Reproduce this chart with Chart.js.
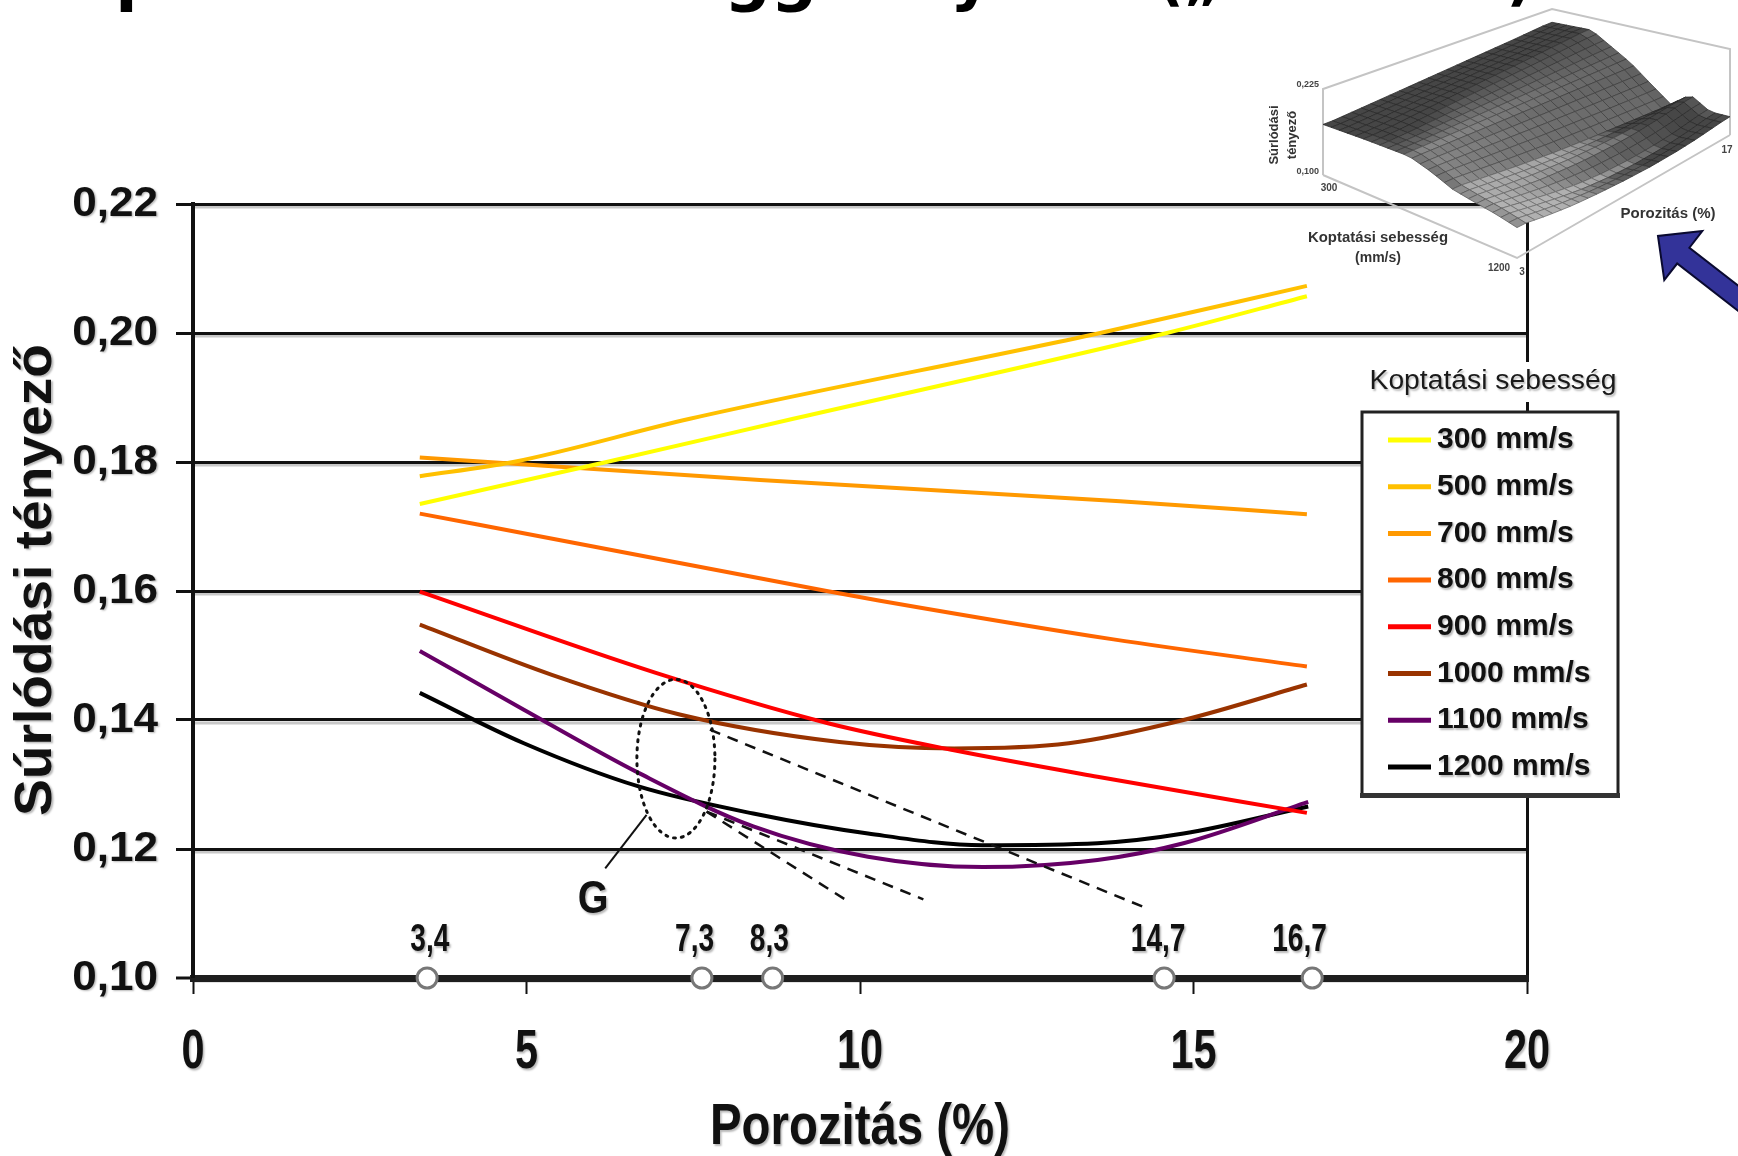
<!DOCTYPE html>
<html><head><meta charset="utf-8">
<script src="https://cdn.jsdelivr.net/npm/chart.js@4.4.1/dist/chart.umd.min.js"></script>
<style>html,body{margin:0;padding:0;background:#fff;}canvas{display:block;}</style>
</head><body>
<canvas id="c" width="1738" height="1156"></canvas>
<script>
// ---------------- DATA ----------------
const speeds = [300, 500, 700, 800, 900, 1000, 1100, 1200];
const seriesLabels = speeds.map(s => s + ' mm/s');
const xTicks = [0, 5, 10, 15, 20];
const yTicks = [0.10, 0.12, 0.14, 0.16, 0.18, 0.20, 0.22];

const por300 = [3.4, 6.2, 9.0, 14.6, 16.7];
const fr300  = [0.1735, 0.1800, 0.1867, 0.2000, 0.2057];
const por500 = [3.4, 4.8, 7.45, 13.6, 16.7];
const fr500  = [0.1778, 0.1800, 0.1867, 0.2000, 0.2073];
const por700 = [3.4, 8.5, 13.9, 16.7];
const fr700  = [0.1807, 0.1772, 0.1739, 0.1719];
const por800 = [3.4, 6.0, 9.5, 10.3, 13.8, 16.7];
const fr800  = [0.1720, 0.1669, 0.1600, 0.1585, 0.1525, 0.1483];
const por900 = [3.4, 6.94, 9.52, 11.41, 13.56, 16.7];
const fr900  = [0.1599, 0.1473, 0.1395, 0.1353, 0.1312, 0.1256];
const por1000 = [3.4, 5.38, 7.28, 9.69, 11.41, 13.13, 14.85, 16.7];
const fr1000  = [0.1548, 0.1470, 0.1409, 0.1366, 0.1356, 0.1364, 0.1400, 0.1455];
const por1100 = [3.4, 4.96, 6.68, 8.4, 10.12, 11.84, 13.56, 14.85, 16.72];
const fr1100  = [0.1507, 0.1416, 0.1318, 0.1235, 0.1188, 0.1172, 0.1183, 0.1209, 0.1273];
const por1200 = [3.4, 4.96, 6.68, 8.4, 10.12, 11.84, 13.56, 14.85, 16.72];
const fr1200  = [0.1442, 0.1364, 0.1297, 0.1255, 0.1224, 0.1206, 0.1209, 0.1224, 0.1266];

const tanAx = [7.75, 14.3],  tanAy = [0.1385, 0.1108];
const tanBx = [7.7, 9.85],   tanBy = [0.1258, 0.1117];
const tanCx = [7.7, 10.95],  tanCy = [0.1258, 0.1122];
const gLineX = [6.8, 6.18],  gLineY = [0.1253, 0.1170];
const ellipseCenter = [7.24, 0.134];
const ellipseRadii = [0.585, 0.0123];
const gLabel = 'G';
const gLabelPos = [6.0, 0.112];

const markX = [3.51, 7.63, 8.69, 14.56, 16.78];
const markLabels = ['3,4', '7,3', '8,3', '14,7', '16,7'];
const markLabelX = [3.55, 7.52, 8.64, 14.47, 16.59];
const markLabelY = 0.1058;
const axisMin = 0.10;

const xTitle = 'Porozitás (%)';
const yTitle = 'Súrlódási tényező';
const legendTitle = 'Koptatási sebesség';
const topTitleMain = 'Optimális érték függvényében ';
const topTitleParen = '(„G” határ)';

// inset (3D surface) labels
const insetZ = [0.100, 0.225];
const insetZLabels = ['0,100', '0,225'];
const insetSpeedLabels = ['300', '1200'];
const insetPorLabels = ['3', '17'];
const insetPor = [3, 17];
const insetYTitle = ['Súrlódási', 'tényező'];
const insetSpeedTitle = ['Koptatási sebesség', '(mm/s)'];
const insetPorTitle = 'Porozitás (%)';

// ---------------- STYLE ----------------
const colors = ['#FFFF00', '#FFC000', '#FF9900', '#FF6600', '#FF0000', '#993300', '#660066', '#000000'];
const porX = [por300, por500, por700, por800, por900, por1000, por1100, por1200];
const fric = [fr300, fr500, fr700, fr800, fr900, fr1000, fr1100, fr1200];
const SANS = '"Liberation Sans", Arial, sans-serif';
const TITLE_FONT = 'bold 65px "DejaVu Sans", Verdana, sans-serif';

function drawText(ctx, s, x, y, o) {
  ctx.save();
  ctx.translate(x, y);
  if (o.rot) ctx.rotate(o.rot);
  ctx.font = o.font;
  let hs = o.hs || 1;
  if (o.width) hs = o.width / ctx.measureText(s).width;
  ctx.scale(hs, 1);
  ctx.textAlign = o.align || 'center';
  ctx.textBaseline = o.baseline || 'middle';
  ctx.fillStyle = o.color || '#111';
  if (o.shadow) { ctx.shadowColor = 'rgba(0,0,0,0.28)'; ctx.shadowBlur = 2; ctx.shadowOffsetX = 1.5; ctx.shadowOffsetY = 1.5; }
  ctx.fillText(s, 0, 0);
  ctx.restore();
}

function interp(xs, ys, x) {
  if (x <= xs[0]) return ys[0];
  if (x >= xs[xs.length - 1]) return ys[ys.length - 1];
  for (let i = 0; i < xs.length - 1; i++) {
    if (x <= xs[i + 1]) { const t = (x - xs[i]) / (xs[i + 1] - xs[i]); return ys[i] + t * (ys[i + 1] - ys[i]); }
  }
  return ys[ys.length - 1];
}
function surf(speed, p) {
  let i = 0;
  while (i < speeds.length - 2 && speed > speeds[i + 1]) i++;
  const t = Math.min(1, Math.max(0, (speed - speeds[i]) / (speeds[i + 1] - speeds[i])));
  const a = interp(porX[i], fric[i], p), b = interp(porX[i + 1], fric[i + 1], p);
  return a + (b - a) * t;
}

function drawInset(ctx) {
  const L = [1323, 175], F = [1517, 258], R = [1730, 135], B = [1552, 95], HH = 86;
  const proj = (u, v, z) => {
    const x = L[0] * (1 - u) * (1 - v) + F[0] * u * (1 - v) + R[0] * u * v + B[0] * (1 - u) * v;
    const y = L[1] * (1 - u) * (1 - v) + F[1] * u * (1 - v) + R[1] * u * v + B[1] * (1 - u) * v;
    return [x, y - (z - insetZ[0]) / (insetZ[1] - insetZ[0]) * HH];
  };
  ctx.save();
  ctx.strokeStyle = '#c4c4c4'; ctx.lineWidth = 2;
  const Lt = proj(0, 0, insetZ[1]), Bt = proj(0, 1, insetZ[1]), Rt = proj(1, 1, insetZ[1]);
  const Lb = proj(0, 0, insetZ[0]), Fb = proj(1, 0, insetZ[0]), Rb = proj(1, 1, insetZ[0]);
  ctx.beginPath();
  ctx.moveTo(Lb[0], Lb[1]); ctx.lineTo(Lt[0], Lt[1]); ctx.lineTo(Bt[0], Bt[1]); ctx.lineTo(Rt[0], Rt[1]); ctx.lineTo(Rb[0], Rb[1]);
  ctx.moveTo(Lb[0], Lb[1]); ctx.lineTo(Fb[0], Fb[1]); ctx.lineTo(Rb[0], Rb[1]);
  ctx.stroke();
  const nu = 24, nv = 24;
  const s0 = speeds[0], s1 = speeds[speeds.length - 1];
  const Z = [];
  for (let i = 0; i <= nu; i++) {
    Z.push([]);
    for (let j = 0; j <= nv; j++) {
      const sp = s0 + (s1 - s0) * i / nu, p = insetPor[0] + (insetPor[1] - insetPor[0]) * j / nv;
      Z[i].push(surf(sp, p));
    }
  }
  const quads = [];
  for (let i = 0; i < nu; i++) for (let j = 0; j < nv; j++) quads.push([i, j]);
  quads.sort((a, b) => (a[0] - a[1]) - (b[0] - b[1]));
  const zpx = z => (z - insetZ[0]) / (insetZ[1] - insetZ[0]) * HH;
  for (const [i, j] of quads) {
    const u0 = i / nu, u1 = (i + 1) / nu, v0 = j / nv, v1 = (j + 1) / nv;
    const p1 = proj(u0, v0, Z[i][j]), p2 = proj(u1, v0, Z[i + 1][j]), p3 = proj(u1, v1, Z[i + 1][j + 1]), p4 = proj(u0, v1, Z[i][j + 1]);
    const gu = ((zpx(Z[i + 1][j]) + zpx(Z[i + 1][j + 1])) - (zpx(Z[i][j]) + zpx(Z[i][j + 1]))) / 2 / (211 / nu);
    const gv = ((zpx(Z[i][j + 1]) + zpx(Z[i + 1][j + 1])) - (zpx(Z[i][j]) + zpx(Z[i + 1][j]))) / 2 / (246 / nv);
    const k = 5;
    let nx = -gu * k, ny = -gv * k, nz = 1; const nl = Math.hypot(nx, ny, nz); nx /= nl; ny /= nl; nz /= nl;
    const lx = 0.35, ly = 0.75, lz = 0.56;
    const d = Math.max(0, nx * lx + ny * ly + nz * lz);
    const g = Math.round(Math.min(205, Math.max(70, 10 + 170 * d)));
    ctx.fillStyle = `rgb(${g},${g},${g})`;
    const gl = Math.round(g * 0.62);
    ctx.strokeStyle = `rgb(${gl},${gl},${gl})`;
    ctx.lineWidth = 0.8;
    ctx.beginPath();
    ctx.moveTo(p1[0], p1[1]); ctx.lineTo(p2[0], p2[1]); ctx.lineTo(p3[0], p3[1]); ctx.lineTo(p4[0], p4[1]); ctx.closePath();
    ctx.fill(); ctx.stroke();
  }
  const f = s => 'bold ' + s + 'px ' + SANS;
  drawText(ctx, insetZLabels[1], Lt[0] - 4, Lt[1] - 4, { font: f(9), align: 'right', color: '#444' });
  drawText(ctx, insetZLabels[0], Lb[0] - 4, Lb[1] - 3, { font: f(9), align: 'right', color: '#444' });
  drawText(ctx, insetSpeedLabels[0], Lb[0] + 6, Lb[1] + 13, { font: f(10), color: '#444' });
  drawText(ctx, insetSpeedLabels[1], Fb[0] - 18, Fb[1] + 10, { font: f(10), color: '#444' });
  drawText(ctx, insetPorLabels[0], Fb[0] + 5, Fb[1] + 14, { font: f(10), color: '#444' });
  drawText(ctx, insetPorLabels[1], Rb[0] - 3, Rb[1] + 15, { font: f(10), color: '#444' });
  drawText(ctx, insetYTitle[0], 1274, 135, { font: f(13), rot: -Math.PI / 2, color: '#333' });
  drawText(ctx, insetYTitle[1], 1292, 135, { font: f(13), rot: -Math.PI / 2, color: '#333' });
  drawText(ctx, insetSpeedTitle[0], 1378, 238, { font: f(14), width: 140, color: '#333' });
  drawText(ctx, insetSpeedTitle[1], 1378, 258, { font: f(14), color: '#333' });
  drawText(ctx, insetPorTitle, 1668, 214, { font: f(14), width: 95, color: '#333' });
  ctx.restore();
}

function drawArrow(ctx) {
  const T = [1658, 236], d = [0.79, 0.613], n = [-0.613, 0.79];
  const hl = 32, hw = 31, sw = 10, tail = 140;
  const C = [T[0] + hl * d[0], T[1] + hl * d[1]];
  const P = (base, a, b) => [base[0] + a * n[0] + b * d[0], base[1] + a * n[1] + b * d[1]];
  const pts = [T, P(C, hw, 0), P(C, sw, 0), P(C, sw, tail), P(C, -sw, tail), P(C, -sw, 0), P(C, -hw, 0)];
  ctx.save();
  ctx.beginPath();
  pts.forEach((p, i) => i ? ctx.lineTo(p[0], p[1]) : ctx.moveTo(p[0], p[1]));
  ctx.closePath();
  ctx.fillStyle = '#333399'; ctx.fill();
  ctx.strokeStyle = '#0a0a30'; ctx.lineWidth = 2; ctx.stroke();
  ctx.restore();
}

const decor = {
  id: 'decor',
  beforeDraw(chart) {
    const c = chart.ctx, ys = chart.scales.y, a = chart.chartArea;
    c.save();
    c.fillStyle = '#fff'; c.fillRect(0, 0, chart.width, chart.height);
    c.strokeStyle = '#c8c8c8'; c.lineWidth = 3;
    yTicks.forEach(v => {
      const y = ys.getPixelForValue(v) + 3;
      c.beginPath(); c.moveTo(a.left, y); c.lineTo(a.right, y); c.stroke();
    });
    c.restore();
  },
  afterDatasetsDraw(chart) {
    const c = chart.ctx, xs = chart.scales.x, ys = chart.scales.y;
    c.save();
    const cx = xs.getPixelForValue(ellipseCenter[0]), cy = ys.getPixelForValue(ellipseCenter[1]);
    const rx = xs.getPixelForValue(ellipseCenter[0] + ellipseRadii[0]) - cx;
    const ry = cy - ys.getPixelForValue(ellipseCenter[1] + ellipseRadii[1]);
    c.setLineDash([2, 6]); c.lineCap = 'round'; c.lineWidth = 3; c.strokeStyle = '#111';
    c.beginPath(); c.ellipse(cx, cy, rx, ry, 0, 0, Math.PI * 2); c.stroke();
    c.restore();
    drawText(c, gLabel, xs.getPixelForValue(gLabelPos[0]), ys.getPixelForValue(gLabelPos[1]),
      { font: 'bold 46px ' + SANS, hs: 0.86, shadow: true });
    markLabels.forEach((t, i) => {
      drawText(c, t, xs.getPixelForValue(markLabelX[i]), ys.getPixelForValue(markLabelY),
        { font: 'bold 38px ' + SANS, hs: 0.74, shadow: true });
    });
  },
  afterDraw(chart) {
    const c = chart.ctx, xs = chart.scales.x, ys = chart.scales.y;
    yTicks.forEach(v => {
      drawText(c, v.toFixed(2).replace('.', ','), 158, ys.getPixelForValue(v),
        { font: 'bold 42px ' + SANS, hs: 1.05, align: 'right', shadow: true });
    });
    xTicks.forEach(v => {
      drawText(c, String(v), xs.getPixelForValue(v), 1053,
        { font: 'bold 56px ' + SANS, hs: 0.74, shadow: true });
    });
    drawText(c, xTitle, (chart.chartArea.left + chart.chartArea.right) / 2, 1128,
      { font: 'bold 58px ' + SANS, width: 300, shadow: true });
    drawText(c, yTitle, 37, 580,
      { font: 'bold 52px ' + SANS, width: 472, rot: -Math.PI / 2, shadow: true });
    c.save();
    c.fillStyle = '#fff';
    c.fillRect(1366, 362, 254, 40);
    c.fillRect(1362, 412, 256, 383);
    c.strokeStyle = '#222'; c.lineWidth = 3;
    c.strokeRect(1362, 412, 256, 383);
    c.fillStyle = '#333'; c.fillRect(1360, 793, 260, 5);
    c.restore();
    drawText(c, legendTitle, 1493, 382, { font: '27px ' + SANS, width: 247, color: '#1a1a1a', shadow: true });
    seriesLabels.forEach((t, i) => {
      const y = 440 + i * 46.7;
      c.save(); c.strokeStyle = colors[i]; c.lineWidth = 5;
      c.beginPath(); c.moveTo(1388, y); c.lineTo(1431, y); c.stroke(); c.restore();
      drawText(c, t, 1437, y, { font: 'bold 30px ' + SANS, align: 'left', color: '#111', shadow: true });
    });
    drawInset(c);
    drawArrow(c);
    // cut-off heading at the very top (only descenders show)
    c.save(); c.font = TITLE_FONT; const w1 = c.measureText(topTitleMain).width; c.restore();
    drawText(c, topTitleMain, 60, -2, { font: TITLE_FONT, align: 'left', baseline: 'alphabetic', color: '#000' });
    drawText(c, topTitleParen, 60 + w1 - 39, -2, { font: TITLE_FONT, hs: 0.9, align: 'left', baseline: 'alphabetic', color: '#000' });
  }
};

const datasets = [];
datasets.push({
  label: 'points', data: markX.map(x => ({ x, y: axisMin })), showLine: false,
  pointRadius: 10, pointHoverRadius: 10, pointBackgroundColor: '#fff', pointBorderColor: '#777', pointBorderWidth: 3,
  clip: false, order: 0
});
[[tanAx, tanAy], [tanBx, tanBy], [tanCx, tanCy]].forEach(([xs, ys]) => datasets.push({
  label: 'tangent', data: xs.map((x, i) => ({ x, y: ys[i] })), borderColor: '#111', borderWidth: 2.5,
  borderDash: [11, 8], pointRadius: 0, fill: false, order: 1
}));
datasets.push({
  label: 'G', data: gLineX.map((x, i) => ({ x, y: gLineY[i] })), borderColor: '#111', borderWidth: 2,
  pointRadius: 0, fill: false, order: 1
});
speeds.forEach((s, i) => datasets.push({
  label: seriesLabels[i], data: porX[i].map((x, j) => ({ x, y: fric[i][j] })),
  borderColor: colors[i], borderWidth: 4, pointRadius: 0, fill: false,
  cubicInterpolationMode: 'monotone', order: 2
}));

new Chart(document.getElementById('c'), {
  type: 'line',
  data: { datasets },
  options: {
    responsive: false, animation: false, devicePixelRatio: 1,
    layout: { padding: { left: 0, top: 204, right: 211, bottom: 0 } },
    plugins: { legend: { display: false }, tooltip: { enabled: false } },
    scales: {
      x: {
        type: 'linear', min: xTicks[0], max: xTicks[xTicks.length - 1],
        ticks: { stepSize: 5, display: false },
        grid: {
          color: c => (c.tick && c.tick.value === xTicks[xTicks.length - 1]) ? '#111' : 'rgba(0,0,0,0)',
          lineWidth: 3, drawTicks: true, tickLength: 16, tickColor: '#111', tickWidth: 2
        },
        border: { display: true, color: '#1e1e1e', width: 7 },
        afterFit: s => { s.height = 178; }
      },
      y: {
        type: 'linear', min: yTicks[0], max: yTicks[yTicks.length - 1],
        ticks: { stepSize: 0.02, display: false },
        grid: {
          color: '#111', lineWidth: c => (c.tick && Math.abs(c.tick.value - axisMin) < 1e-6) ? 0 : 3,
          drawTicks: true, tickLength: 17, tickColor: '#111', tickWidth: 3
        },
        border: { display: true, color: '#111', width: 4 },
        afterFit: s => { s.width = 193; }
      }
    }
  },
  plugins: [decor]
});
</script>
</body></html>
